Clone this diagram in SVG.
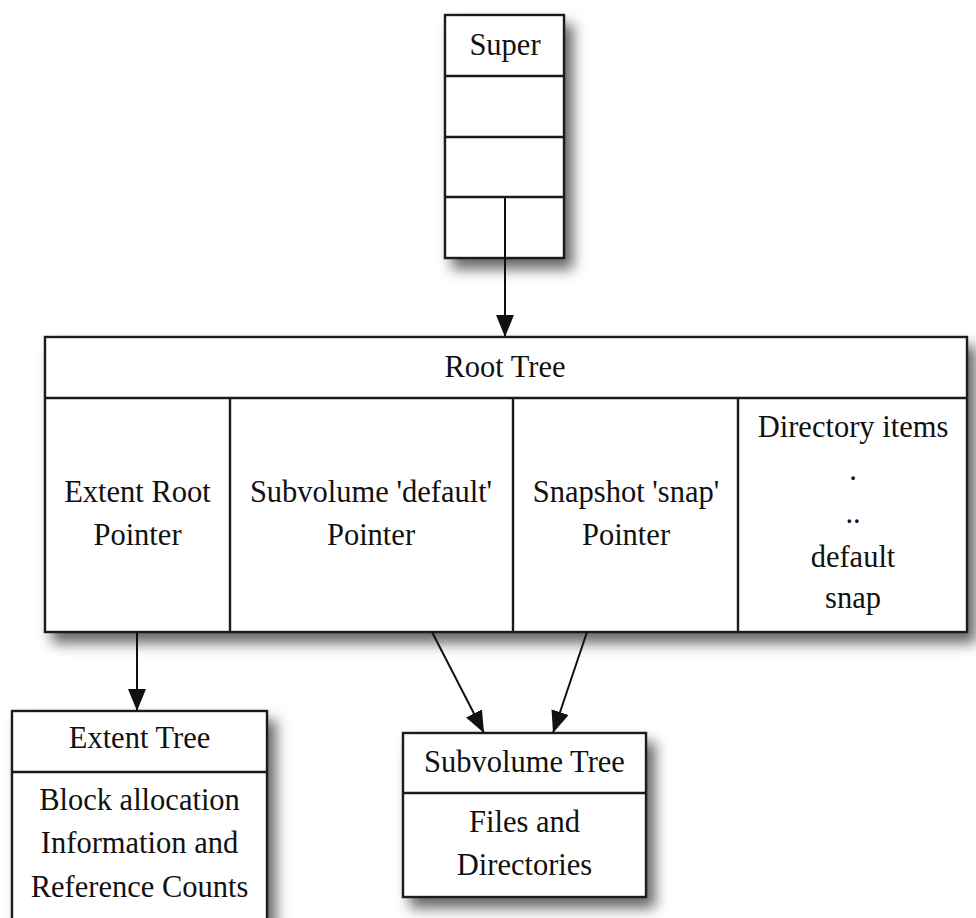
<svg xmlns="http://www.w3.org/2000/svg" width="976" height="918" viewBox="0 0 976 918">
<style>
.box{fill:#fff;stroke:#1a1a1a;stroke-width:2.4}
.ln{stroke:#1a1a1a;stroke-width:2.4;fill:none}
.t{font-family:"Liberation Serif","Times New Roman",serif;font-size:30.5px;fill:#111;text-anchor:middle}
.edge{stroke:#111;stroke-width:2;fill:none;marker-end:url(#arr)}
</style>
<defs>
<filter id="sh" x="-20%" y="-20%" width="150%" height="150%">
<feDropShadow dx="8" dy="10" stdDeviation="7" flood-color="#000" flood-opacity="0.6"/>
</filter>
<marker id="arr" markerUnits="userSpaceOnUse" markerWidth="22" markerHeight="18" refX="22" refY="9" orient="auto">
<path d="M0,0 L22,9 L0,18 z" fill="#111"/>
</marker>
</defs>
<rect width="976" height="918" fill="#fff"/>

<g id="super">
<rect class="box" x="445" y="15" width="119" height="243" filter="url(#sh)"/>
<line class="ln" x1="445" y1="76" x2="564" y2="76"/>
<line class="ln" x1="445" y1="137" x2="564" y2="137"/>
<line class="ln" x1="445" y1="197" x2="564" y2="197"/>
<text class="t" x="505" y="55">Super</text>
</g>

<g id="root-tree">
<rect class="box" x="45" y="337" width="922" height="295" filter="url(#sh)"/>
<line class="ln" x1="45" y1="398" x2="967" y2="398"/>
<line class="ln" x1="230" y1="398" x2="230" y2="632"/>
<line class="ln" x1="513" y1="398" x2="513" y2="632"/>
<line class="ln" x1="738" y1="398" x2="738" y2="632"/>
<text class="t" x="505" y="377">Root Tree</text>
<text class="t" x="137.5" y="502">Extent Root</text>
<text class="t" x="137.5" y="545">Pointer</text>
<text class="t" x="371" y="502">Subvolume 'default'</text>
<text class="t" x="371" y="545">Pointer</text>
<text class="t" x="626" y="502">Snapshot 'snap'</text>
<text class="t" x="626" y="545">Pointer</text>
<text class="t" x="853" y="437">Directory items</text>
<text class="t" x="853" y="480">.</text>
<text class="t" x="853" y="523">..</text>
<text class="t" x="853" y="567">default</text>
<text class="t" x="853" y="608">snap</text>
</g>

<g id="extent-tree">
<rect class="box" x="12" y="711" width="255" height="225" filter="url(#sh)"/>
<line class="ln" x1="12" y1="772" x2="267" y2="772"/>
<text class="t" x="139.5" y="748">Extent Tree</text>
<text class="t" x="139.5" y="810">Block allocation</text>
<text class="t" x="139.5" y="853">Information and</text>
<text class="t" x="139.5" y="897">Reference Counts</text>
</g>

<g id="subvolume-tree">
<rect class="box" x="403" y="733" width="243" height="164" filter="url(#sh)"/>
<line class="ln" x1="403" y1="793" x2="646" y2="793"/>
<text class="t" x="524.5" y="772">Subvolume Tree</text>
<text class="t" x="524.5" y="832">Files and</text>
<text class="t" x="524.5" y="875">Directories</text>
</g>

<g id="connectors">
<line class="edge" x1="505" y1="197" x2="505" y2="337"/>
<line class="edge" x1="137" y1="632" x2="137" y2="711"/>
<line class="edge" x1="432" y1="632" x2="484" y2="733"/>
<line class="edge" x1="587" y1="632" x2="553" y2="733"/>
</g>
</svg>
